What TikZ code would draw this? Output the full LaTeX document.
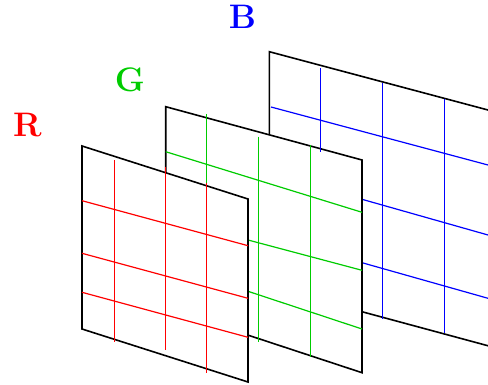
\documentclass[tikz,border=0pt]{standalone}
\definecolor{rr}{RGB}{255,0,0}
\definecolor{gg}{RGB}{0,204,0}
\definecolor{bb}{RGB}{0,0,255}
\begin{document}
\begin{tikzpicture}[x=1pt,y=-1pt,
  plane/.style={draw=black,fill=white,line width=1.6pt,line join=miter},
  rl/.style={draw=rr,line width=1.2pt},
  gl/.style={draw=gg,line width=1.2pt},
  bl/.style={draw=bb,line width=1.2pt},
  lab/.style={inner sep=0pt,font=\fontsize{34}{40}\selectfont\bfseries}]
\useasboundingbox (0,0) rectangle (488,385);
\clip (0,0) rectangle (488,385);
% B plane
\coordinate (B1) at (269.3,51.7);
\coordinate (B2) at (500,113.2);
\coordinate (B3) at (500,349);
\coordinate (B4) at (269.3,286.7);
\draw[plane] (B1) -- (B2) -- (B3) -- (B4) -- cycle;
\coordinate (bv1a) at (320.5,68.3); \coordinate (bv1b) at (320.5,151.7);
\coordinate (bv2a) at (382.5,83.3); \coordinate (bv2b) at (382.5,319.3);
\coordinate (bv3a) at (444.5,99);   \coordinate (bv3b) at (444.5,333.3);
\coordinate (bh1a) at (271,107);    \coordinate (bh1b) at (488,165);
\coordinate (bh2a) at (362,199.3);  \coordinate (bh2b) at (488,235);
\coordinate (bh3a) at (362,262.7);  \coordinate (bh3b) at (488,298.3);
\draw[bl] (bv2a) -- (bv2b);
\draw[bl] (bv3a) -- (bv3b);
\draw[bl] (bh1a) -- (bh1b);
\draw[bl] (bh2a) -- (bh2b);
\draw[bl] (bh3a) -- (bh3b);
% G plane
\coordinate (G1) at (165.7,106.7);
\coordinate (G2) at (362,160);
\coordinate (G3) at (362,372.7);
\coordinate (G4) at (165.7,308);
\draw[plane] (G1) -- (G2) -- (G3) -- (G4) -- cycle;
\draw[bl] (bv1a) -- (bv1b);
\coordinate (gv1a) at (206.5,114);   \coordinate (gv1b) at (206.5,186);
\coordinate (gv2a) at (258.5,136.7); \coordinate (gv2b) at (258.5,342.3);
\coordinate (gv3a) at (310.5,145);   \coordinate (gv3b) at (310.5,356.7);
\coordinate (gh1a) at (165.7,151.7); \coordinate (gh1b) at (362,212.3);
\coordinate (gh2a) at (248,240);     \coordinate (gh2b) at (362,270.3);
\coordinate (gh3a) at (248,291.3);   \coordinate (gh3b) at (362,329);
\draw[gl] (gv1a) -- (gv1b);
\draw[gl] (gv2a) -- (gv2b);
\draw[gl] (gv3a) -- (gv3b);
\draw[gl] (gh1a) -- (gh1b);
\draw[gl] (gh2a) -- (gh2b);
\draw[gl] (gh3a) -- (gh3b);
% R plane
\coordinate (R1) at (82,146);
\coordinate (R2) at (248,199);
\coordinate (R3) at (248,382);
\coordinate (R4) at (82,329);
\draw[plane] (R1) -- (R2) -- (R3) -- (R4) -- cycle;
\coordinate (rv1a) at (114.5,160);   \coordinate (rv1b) at (114.5,342);
\coordinate (rv2a) at (165.5,167);   \coordinate (rv2b) at (165.5,350);
\coordinate (rv3a) at (206.5,183);   \coordinate (rv3b) at (206.5,373);
\coordinate (rh1a) at (82,200.7);    \coordinate (rh1b) at (248,245.7);
\coordinate (rh2a) at (82,253.3);    \coordinate (rh2b) at (248,298.3);
\coordinate (rh3a) at (82,292.3);    \coordinate (rh3b) at (248,337.3);
\draw[rl] (rv1a) -- (rv1b);
\draw[rl] (rv2a) -- (rv2b);
\draw[rl] (rv3a) -- (rv3b);
\draw[rl] (rh1a) -- (rh1b);
\draw[rl] (rh2a) -- (rh2b);
\draw[rl] (rh3a) -- (rh3b);
% labels
\node[lab,text=rr] (labR) at (27.5,125) {R};
\node[lab,text=gg] (labG) at (130,79.5) {G};
\node[lab,text=bb] (labB) at (242.5,17) {B};
\end{tikzpicture}
\end{document}
